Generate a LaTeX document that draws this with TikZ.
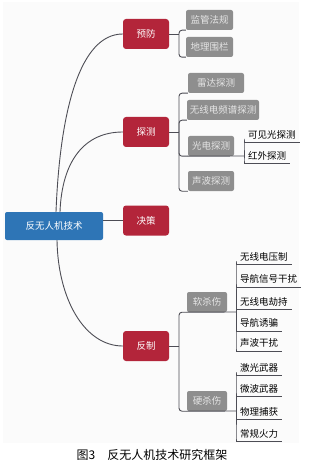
\documentclass[tikz,border=0pt]{standalone}
\usepackage{fontspec}
\setmainfont{Noto Sans CJK SC}
\usetikzlibrary{positioning}
\definecolor{rootblue}{HTML}{2E75B6}
\definecolor{topicred}{HTML}{B3253A}
\definecolor{subgray}{HTML}{8E8E8E}
\definecolor{linkgray}{HTML}{4D4D55}
\newcommand{\mapfont}{\fontsize{9.5}{11}\selectfont}

\begin{document}
\begin{tikzpicture}[x=1pt,y=-1pt,
  root/.style={fill=rootblue,rounded corners=2pt,text=white,minimum width=98pt,
    minimum height=28pt,font=\mapfont},
  topic/.style={fill=topicred,rounded corners=3pt,text=white,minimum width=46pt,
    minimum height=30pt,font=\mapfont},
  sub/.style={fill=subgray,rounded corners=2pt,text=gray!20,minimum width=#1,
    minimum height=20pt,inner sep=1pt,font=\mapfont},
  leaf/.style={anchor=south west,inner xsep=4pt,inner ysep=3pt,font=\mapfont,
    append after command={\pgfextra{\draw[link] (\tikzlastnode.south west) -- (\tikzlastnode.south east);}}},
  link/.style={draw=linkgray,line width=0.9pt},
]
  \useasboundingbox (0,0) rectangle (309,465);
  \fill[gray!3] (3,2) rectangle (299,443);

  \node[root] (root) at (54,226) {反无人机技术};
  \node[topic] (prevent) at (146,34) {预防};
  \node[topic] (detect) at (146,132) {探测};
  \node[topic] (decide) at (146,220.5) {决策};
  \node[topic] (counter) at (146,346) {反制};

  \node[sub=47pt] (rules) at (209.5,20) {监管法规};
  \node[sub=47pt] (fence) at (209.5,47) {地理围栏};
  \node[sub=56pt] (radar) at (216,83) {雷达探测};
  \node[sub=72pt] (radio) at (223,110) {无线电频谱探测};
  \node[sub=46pt] (optic) at (211,146) {光电探测};
  \node[sub=46pt] (sonar) at (211,181) {声波探测};
  \node[sub=40pt] (soft) at (207,302) {软杀伤};
  \node[sub=40pt] (hard) at (207,401) {硬杀伤};

  \node[leaf] (visible) at (244,142) {可见光探测};
  \node[leaf] (infrared) at (244,163) {红外探测};
  \node[leaf] (jam) at (236,264) {无线电压制};
  \node[leaf] (navjam) at (236,287) {导航信号干扰};
  \node[leaf] (hijack) at (236,309) {无线电劫持};
  \node[leaf] (spoof) at (236,331) {导航诱骗};
  \node[leaf] (sonic) at (236,351) {声波干扰};
  \node[leaf] (laser) at (236,375) {激光武器};
  \node[leaf] (microwave) at (236,396) {微波武器};
  \node[leaf] (capture) at (236,419) {物理捕获};
  \node[leaf] (fire) at (236,441) {常规火力};

  \coordinate (preventfork) at (179,34);
  \coordinate (detectfork) at (179,132);
  \coordinate (counterfork) at (179,346);
  \coordinate (opticfork) at (244,156);
  \coordinate (softfork) at (236,312);
  \coordinate (hardfork) at (236,411);

  % root to topics
  \draw[link] ([xshift=2pt]root.north) .. controls (60,110) and (80,34) .. (prevent.west);
  \draw[link] ([xshift=6pt]root.north) .. controls (62,160) and (85,132) .. (detect.west);
  \draw[link] (root.east |- decide.west) -- (decide.west);
  \draw[link] ([xshift=3pt]root.south) .. controls (58,300) and (85,346) .. (counter.west);

  % topics to branches
  \draw[link] (prevent.east) -- (preventfork);
  \foreach \n in {rules,fence}
    \draw[link,rounded corners=3pt] (preventfork) |- (\n.south west);
  \draw[link] (detect.east) -- (detectfork);
  \foreach \n in {radar,radio,optic,sonar}
    \draw[link,rounded corners=3pt] (detectfork) |- (\n.south west);
  \draw[link] (counter.east) -- (counterfork);
  \foreach \n in {soft,hard}
    \draw[link,rounded corners=3pt] (counterfork) |- (\n.south west);

  % branches to leaves
  \draw[link] (optic.south west) -- (opticfork);
  \foreach \n in {visible,infrared}
    \draw[link,rounded corners=3pt] (opticfork) |- (\n.south west);
  \draw[link] (soft.south west) -- (softfork);
  \foreach \n in {jam,navjam,hijack,spoof,sonic}
    \draw[link,rounded corners=3pt] (softfork) |- (\n.south west);
  \draw[link] (hard.south west) -- (hardfork);
  \foreach \n in {laser,microwave,capture,fire}
    \draw[link,rounded corners=3pt] (hardfork) |- (\n.south west);

  \node[font=\fontsize{12}{14}\selectfont] (caption) at (152,455) {图3\quad 反无人机技术研究框架};
\end{tikzpicture}
\end{document}
